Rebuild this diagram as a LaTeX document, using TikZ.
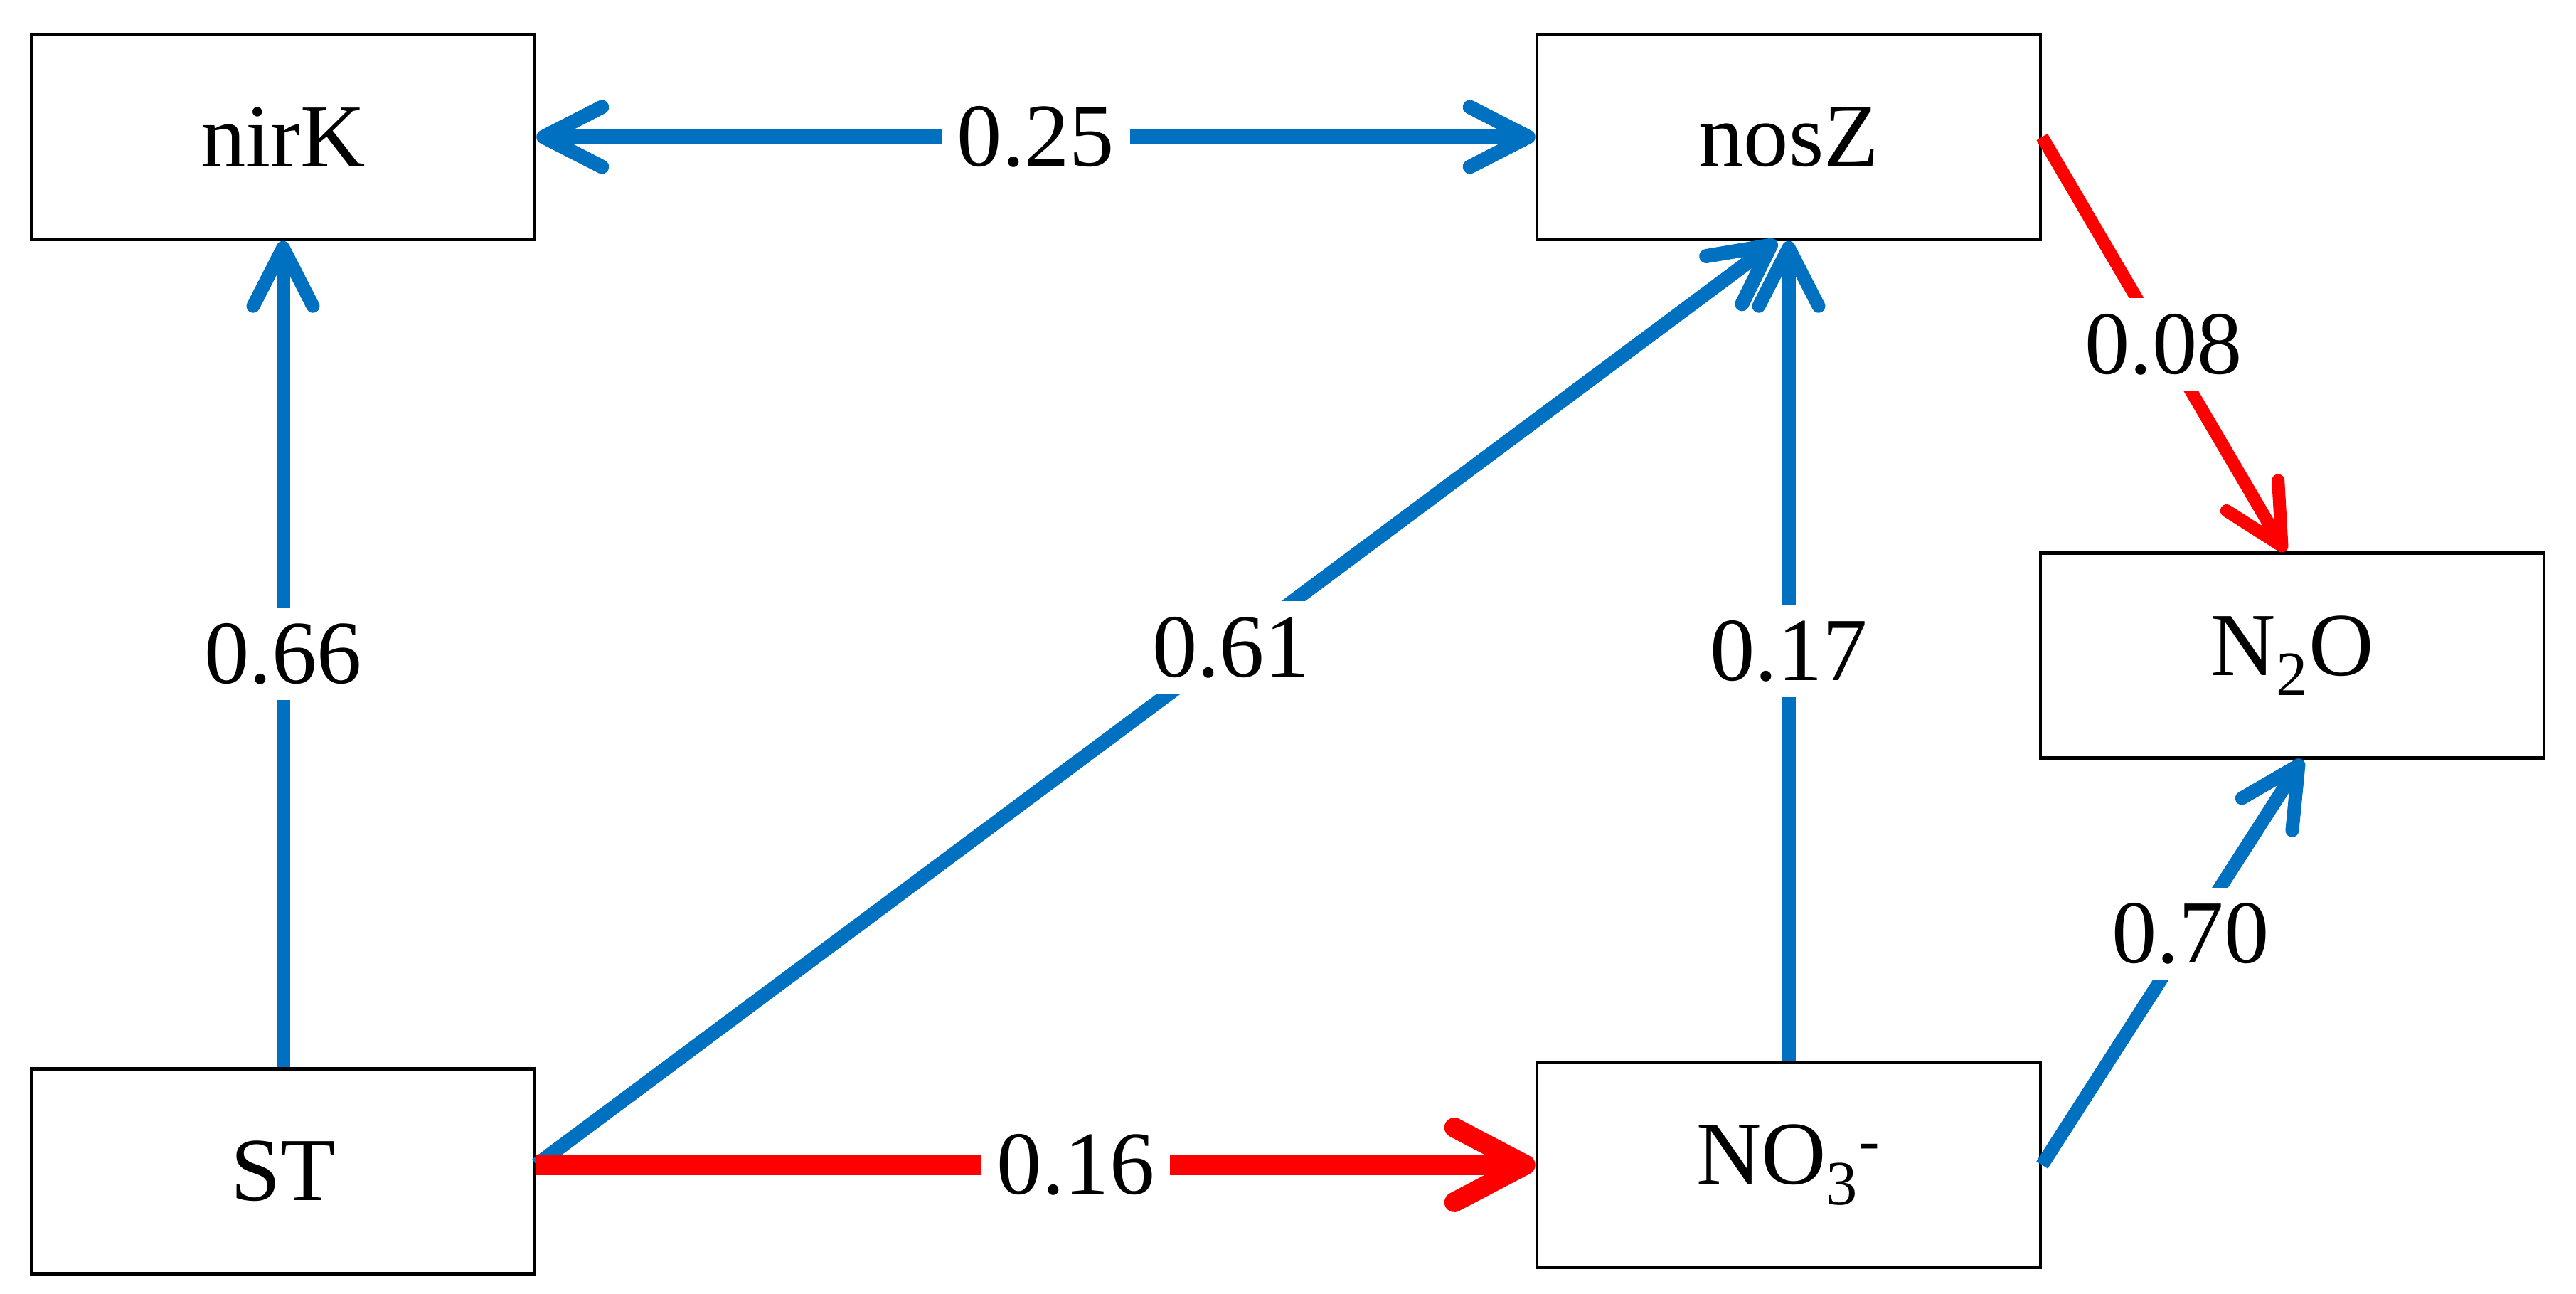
\documentclass[tikz,border=0pt]{standalone}
\usepackage{fontspec}
\setmainfont{Liberation Serif}
\usetikzlibrary{arrows.meta}
\definecolor{pathblue}{RGB}{0,112,192}
\definecolor{pathred}{RGB}{255,0,0}
\tikzset{
  box/.style={draw, line width=0.045cm, minimum width=7.08cm, minimum height=2.88cm, inner sep=0pt},
  coef/.style={fill=white, inner sep=0.22cm, text=black},
  barb/.style={-{Straight Barb[length=8.2mm,width=8.4mm,round]}},
  dbarb/.style={{Straight Barb[length=8.2mm,width=8.4mm,round]}-{Straight Barb[length=8.2mm,width=8.4mm,round]}},
  bigbarb/.style={-{Straight Barb[length=10mm,width=10.5mm,round]}}
}
\begin{document}
\begin{tikzpicture}[font=\fontsize{36}{43}\selectfont]
        \useasboundingbox (0,0) rectangle (36.22,18.18);
        \node [box] (nirK) at (3.98,16.255)  {nirK};                    %top row
        \node [box] (nosZ) at (25.15,16.255) {nosZ};                    %
        \node [box] (NtwoO) at (32.23,8.965) {N\textsubscript{2}O};     %right
        \node [box] (ST)   at (3.98,1.715)   {ST};                      %bottom row
        \node [box] (NOthree) at (25.15,1.805) {NO\textsubscript{3}\textsuperscript{-}};
        \draw [pathblue, line width=0.2cm, dbarb]  (nirK.east) -- node [coef] {0.25} (nosZ.west);
        \draw [pathblue, line width=0.19cm, barb]  (ST.north) -- node [coef] {0.66} (nirK.south);
        \draw [pathblue, line width=0.2cm, barb]   (ST.east |- NOthree.west) -- node [coef, pos=0.56] {0.61} ([xshift=-1.7mm]nosZ.south);
        \draw [pathblue, line width=0.19cm, barb]  (NOthree.north) -- node [coef] {0.17} (nosZ.south);
        \draw [pathred, line width=0.18cm, barb]   (nosZ.east) -- node [coef] {0.08} ([xshift=-1mm]NtwoO.north);
        \draw [pathblue, line width=0.19cm, barb]  (NOthree.east) -- node [coef, pos=0.57] {0.70} ([xshift=1.4mm]NtwoO.south);
        \draw [pathred, line width=0.28cm, bigbarb] (ST.east |- NOthree.west) -- node [coef, pos=0.54] {0.16} (NOthree.west);
\end{tikzpicture}
\end{document}
